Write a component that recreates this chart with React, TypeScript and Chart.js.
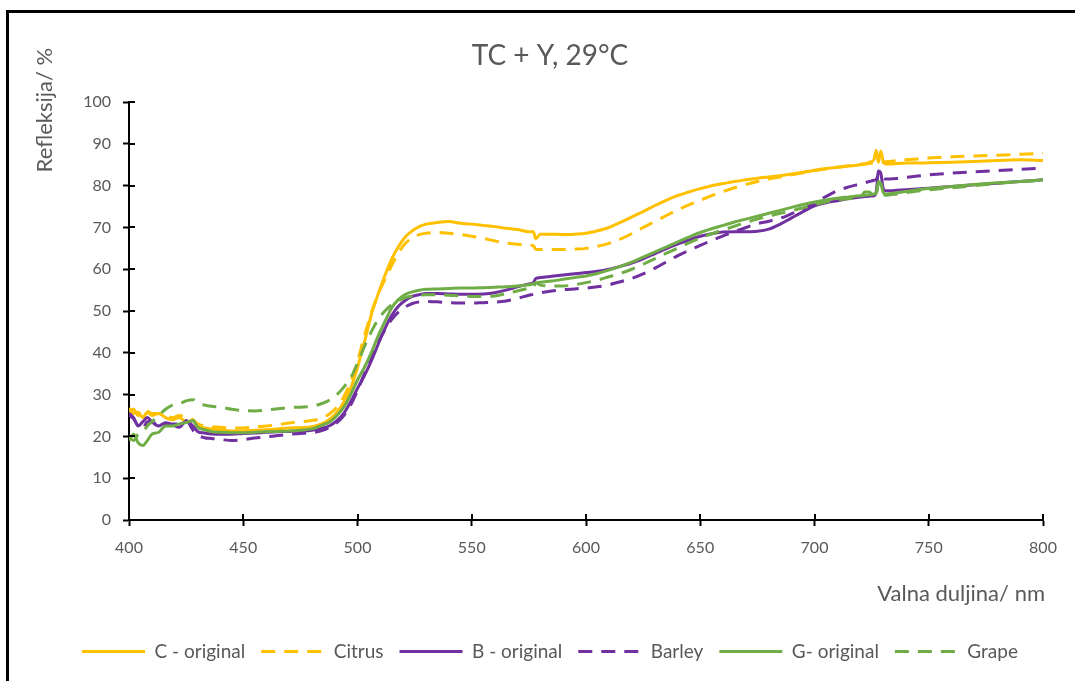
import React, { useEffect, useRef } from "react";
import { Chart, registerables } from "chart.js";

Chart.register(...registerables);

const chartTitle = "TC + Y, 29°C";
const yAxisTitle = "Refleksija/ %";
const xAxisTitle = "Valna duljina/ nm";
const seriesNames = ["C - original", "Citrus", "B - original", "Barley", "G- original", "Grape"];

const wavelengths = [
  400, 402, 404, 406, 408, 410,
  413, 416, 419, 422, 425, 428,
  430, 433, 436, 440, 445, 450,
  455, 460, 465, 470, 475, 480,
  485, 488, 491, 494, 497, 500,
  503, 506, 509, 512, 515, 518,
  521, 524, 527, 530, 535, 540,
  545, 550, 555, 560, 565, 570,
  575, 577, 578, 580, 585, 590,
  595, 600, 605, 610, 615, 620,
  625, 630, 635, 640, 645, 650,
  655, 660, 665, 670, 675, 680,
  685, 690, 695, 700, 705, 710,
  715, 720, 722, 724, 726, 727,
  728, 729, 730, 731, 733, 736,
  740, 745, 750, 760, 770, 780,
  790, 800,
];

const cOriginal = [
  26.8, 25.5, 25.8, 24.5, 25.8, 25.0,
  25.5, 24.5, 24.0, 24.5, 23.5, 23.8,
  22.5, 22.0, 21.8, 21.6, 21.3, 21.3,
  21.5, 21.6, 21.8, 22.0, 22.1, 22.3,
  23.2, 24.2, 25.8, 28.2, 31.5, 36.5,
  42.5, 49.0, 54.0, 58.5, 62.5, 65.5,
  67.8, 69.2, 70.2, 70.8, 71.2, 71.4,
  71.0, 70.8, 70.5, 70.2, 69.8, 69.5,
  69.0, 69.0, 67.3, 68.4, 68.4, 68.3,
  68.4, 68.6, 69.2, 70.0, 71.2, 72.5,
  73.8, 75.2, 76.5, 77.6, 78.5, 79.3,
  80.0, 80.5, 81.0, 81.4, 81.8, 82.1,
  82.4, 82.8, 83.2, 83.7, 84.1, 84.4,
  84.7, 85.0, 85.2, 85.6, 86.2, 88.5,
  85.6, 88.3, 86.0, 85.2, 85.2, 85.3,
  85.4, 85.4, 85.5, 85.6, 85.8, 86.0,
  86.2, 86.0,
];

const citrus = [
  26.0, 26.5, 25.0, 25.5, 26.0, 25.5,
  25.5, 25.0, 24.5, 25.0, 24.5, 24.0,
  23.0, 22.5, 22.3, 22.2, 22.0, 22.0,
  22.3, 22.5, 22.8, 23.2, 23.5, 23.8,
  24.5, 25.5, 27.0, 29.5, 33.0, 38.0,
  44.0, 49.5, 54.0, 57.5, 61.0, 64.0,
  66.2, 67.6, 68.3, 68.6, 68.8, 68.6,
  68.3, 67.9, 67.4, 66.8, 66.3, 66.0,
  65.8, 65.6, 64.8, 64.7, 64.7, 64.7,
  64.8, 65.0, 65.5, 66.2, 67.2, 68.5,
  70.0, 71.4, 72.8, 74.2, 75.4, 76.5,
  77.6, 78.6, 79.5, 80.3, 81.0, 81.6,
  82.1, 82.6, 83.1, 83.6, 84.0, 84.4,
  84.8, 85.1, 85.2, 85.3, 85.4, 85.4,
  85.5, 85.5, 85.6, 85.7, 85.8, 86.0,
  86.2, 86.4, 86.6, 86.9, 87.1, 87.3,
  87.5, 87.8,
];

const bOriginal = [
  25.5, 24.5, 22.5, 23.5, 24.5, 23.5,
  22.5, 23.3, 22.8, 22.2, 23.7, 22.5,
  21.2, 20.8, 20.6, 20.5, 20.5, 20.7,
  20.8, 21.0, 21.1, 21.2, 21.3, 21.5,
  22.0, 22.6, 23.8, 25.5, 28.3, 31.5,
  34.5, 38.0, 42.0, 45.8, 49.0, 51.2,
  52.6, 53.5, 53.9, 54.2, 54.2, 54.1,
  54.0, 54.0, 54.1, 54.4, 55.0, 55.8,
  56.5, 56.8, 57.8, 58.0, 58.3, 58.6,
  58.9, 59.2, 59.5, 60.0, 60.7, 61.5,
  62.5, 63.7, 64.9, 66.0, 67.0, 67.9,
  68.5, 68.9, 69.0, 69.0, 69.1, 69.6,
  70.8, 72.3, 73.8, 75.2, 75.9, 76.4,
  76.9, 77.3, 77.4, 77.5, 77.6, 78.5,
  83.5, 83.0, 79.5, 78.8, 78.8, 78.9,
  79.0, 79.2, 79.4, 79.8, 80.2, 80.6,
  81.0, 81.4,
];

const barley = [
  25.0, 24.2, 22.5, 21.8, 23.5, 23.5,
  22.5, 22.7, 23.0, 22.9, 23.8, 21.5,
  20.3, 19.7, 19.5, 19.3, 19.0, 19.2,
  19.6, 19.9, 20.2, 20.5, 20.7, 20.9,
  21.5, 22.3, 23.3, 25.0, 27.5, 31.0,
  35.0, 39.0, 42.5, 45.5, 48.0, 49.8,
  51.0, 51.8, 52.2, 52.3, 52.2, 52.0,
  51.9, 51.9, 52.0, 52.1, 52.4, 53.0,
  53.8, 54.0, 54.2, 54.4, 54.8, 55.1,
  55.3, 55.5, 55.8, 56.3, 57.0, 57.8,
  58.9, 60.2, 61.7, 63.2, 64.5, 65.7,
  66.9, 68.0, 69.0, 70.0, 70.9, 71.5,
  72.2, 73.3, 74.5, 75.8, 77.4, 78.8,
  79.7, 80.4, 80.7, 81.0, 81.3, 81.5,
  82.5, 82.6, 82.0, 81.6, 81.6, 81.7,
  82.0, 82.3, 82.6, 83.0, 83.3, 83.6,
  83.9, 84.2,
];

const gOriginal = [
  19.0, 20.5, 18.5, 17.8, 19.0, 20.5,
  21.0, 22.5, 22.5, 23.0, 23.3, 23.8,
  22.2, 21.6, 21.2, 21.0, 20.9, 20.9,
  21.0, 21.1, 21.2, 21.3, 21.5, 21.8,
  22.8, 23.5, 25.0, 27.0, 30.0, 33.5,
  36.5, 40.0, 44.0, 47.5, 50.8, 52.8,
  54.0, 54.6, 55.0, 55.2, 55.3, 55.4,
  55.5, 55.5, 55.6, 55.7, 55.8, 56.0,
  56.3, 56.5, 56.7, 56.9, 57.2, 57.6,
  58.0, 58.4, 59.0, 59.8, 60.7, 61.7,
  62.9, 64.1, 65.3, 66.5, 67.7, 68.8,
  69.7, 70.5, 71.3, 72.0, 72.7, 73.4,
  74.1, 74.8, 75.5, 76.1, 76.6, 77.0,
  77.3, 77.6, 77.7, 77.8, 78.0, 78.2,
  81.0, 80.5, 78.5, 78.0, 78.1, 78.3,
  78.6, 79.0, 79.3, 79.8, 80.3, 80.7,
  81.0, 81.4,
];

const grape = [
  20.0, 19.0, 20.5, 21.0, 22.5, 23.5,
  25.0, 26.5, 27.5, 27.8, 28.5, 28.8,
  28.0, 27.5, 27.2, 27.0, 26.5, 26.2,
  26.1, 26.3, 26.6, 26.9, 27.0, 27.2,
  28.0, 28.8, 30.0, 31.8, 34.0, 37.5,
  41.5, 45.0, 48.0, 50.0, 51.5, 52.5,
  53.2, 53.6, 53.8, 53.9, 53.9, 53.8,
  53.6, 53.5, 53.5, 53.6, 54.2, 54.8,
  55.4, 55.6, 56.8, 56.2, 56.0, 56.0,
  56.3, 56.8, 57.4, 58.2, 59.0, 60.0,
  61.2, 62.5, 63.8, 65.0, 66.3, 67.5,
  68.5, 69.4, 70.3, 71.2, 72.0, 72.7,
  73.4, 74.0, 74.7, 75.4, 76.1, 76.6,
  76.9, 77.1, 78.5, 78.5, 77.5, 77.6,
  80.6, 80.6, 78.5, 77.7, 77.8, 78.0,
  78.3, 78.7, 79.0, 79.5, 80.0, 80.5,
  81.0, 81.3,
];

const seriesValues = [cOriginal, citrus, bOriginal, barley, gOriginal, grape];
const seriesColors = ["#FFC000", "#FFC000", "#7030A0", "#7030A0", "#70AD47", "#70AD47"];
const seriesDashed = [false, true, false, true, false, true];
const DASH = [14, 9];

const FONT = "Lato, 'Open Sans', sans-serif";
const GREY = "#595959";

const crossTicksAndTitles = {
  id: "crossTicksAndTitles",
  afterDraw(chart: any) {
    const { ctx, chartArea, scales } = chart;
    const xs = scales.x;
    const ys = scales.y;
    ctx.save();
    ctx.strokeStyle = "#000";
    ctx.lineWidth = 2;
    ctx.beginPath();
    xs.ticks.forEach((t: any) => {
      const px = Math.round(xs.getPixelForValue(t.value));
      ctx.moveTo(px, chartArea.bottom - 6);
      ctx.lineTo(px, chartArea.bottom);
    });
    ys.ticks.forEach((t: any) => {
      const py = Math.round(ys.getPixelForValue(t.value));
      ctx.moveTo(chartArea.left, py);
      ctx.lineTo(chartArea.left + 6, py);
    });
    ctx.stroke();

    ctx.fillStyle = GREY;
    ctx.font = `22px ${FONT}`;
    ctx.textBaseline = "middle";
    ctx.textAlign = "right";
    ctx.fillText(xAxisTitle, chartArea.right + 2, chartArea.bottom + 74);

    ctx.translate(chartArea.left - 84, chartArea.top + 8);
    ctx.rotate(-Math.PI / 2);
    ctx.textAlign = "center";
    ctx.fillText(yAxisTitle, 0, 0);
    ctx.restore();
  },
};

export default function App() {
  const canvasRef = useRef<HTMLCanvasElement | null>(null);

  useEffect(() => {
    const canvas = canvasRef.current;
    if (!canvas) return;
    const datasets = seriesNames.map((name, i) => ({
      label: name,
      data: wavelengths.map((w, j) => ({ x: w, y: seriesValues[i][j] })),
      borderColor: seriesColors[i],
      backgroundColor: seriesColors[i],
      borderWidth: 3,
      borderDash: seriesDashed[i] ? DASH : [],
      pointRadius: 0,
      pointHoverRadius: 0,
      fill: false,
      cubicInterpolationMode: "monotone" as const,
      order: seriesNames.length - i,
    }));

    const defaultLabels = (Chart.defaults as any).plugins.legend.labels.generateLabels;

    const chart = new Chart(canvas, {
      type: "line",
      data: { datasets },
      plugins: [crossTicksAndTitles],
      options: {
        responsive: false,
        animation: false,
        devicePixelRatio: 1,
        layout: { padding: { left: 0, right: 0, top: 0, bottom: 19 } },
        scales: {
          x: {
            type: "linear",
            min: 400,
            max: 800,
            ticks: {
              stepSize: 50,
              color: GREY,
              font: { family: FONT, size: 16 },
              padding: 12,
              maxRotation: 0,
            },
            grid: {
              display: true,
              drawOnChartArea: false,
              drawTicks: true,
              tickLength: 6,
              tickColor: "#000",
              tickWidth: 2,
              color: "#000",
            },
            border: { display: true, color: "#000", width: 2 },
            afterFit: (s: any) => {
              s.height = 106;
            },
          },
          y: {
            type: "linear",
            min: 0,
            max: 100,
            ticks: {
              stepSize: 10,
              color: GREY,
              font: { family: FONT, size: 16 },
              padding: 12,
            },
            grid: {
              display: true,
              drawOnChartArea: false,
              drawTicks: true,
              tickLength: 6,
              tickColor: "#000",
              tickWidth: 2,
              color: "#000",
            },
            border: { display: true, color: "#000", width: 2 },
            afterFit: (s: any) => {
              s.width = 129;
            },
          },
          y2: {
            type: "linear",
            position: "right",
            display: true,
            ticks: { display: false },
            grid: { display: false, drawTicks: false },
            border: { display: false },
            afterFit: (s: any) => {
              s.width = 57;
            },
          },
        },
        plugins: {
          title: {
            display: true,
            text: chartTitle,
            color: GREY,
            font: { family: FONT, size: 28, weight: "normal" },
            padding: { top: 39, bottom: 29.5 },
          },
          legend: {
            display: true,
            position: "bottom",
            labels: {
              usePointStyle: true,
              pointStyle: "line",
              pointStyleWidth: 63,
              boxHeight: 16,
              padding: 16,
              color: GREY,
              font: { family: FONT, size: 19 },
              sort: (a: any, b: any) => a.datasetIndex - b.datasetIndex,
              generateLabels: (ch: any) =>
                defaultLabels(ch).map((it: any) => ({
                  ...it,
                  pointStyle: "line",
                  lineWidth: 3,
                  strokeStyle: seriesColors[it.datasetIndex],
                  fillStyle: seriesColors[it.datasetIndex],
                  lineDash: seriesDashed[it.datasetIndex] ? DASH : [],
                  lineCap: "butt",
                })),
            },
          },
          tooltip: { enabled: false },
        },
      },
    });
    return () => chart.destroy();
  }, []);

  return (
    <div
      style={{
        position: "fixed",
        left: 0,
        top: 0,
        width: 1075,
        height: 681,
        overflow: "hidden",
        background: "#fff",
      }}
    >
      <div
        style={{
          position: "absolute",
          left: 6,
          top: 10,
          width: 1200,
          height: 1000,
          borderTop: "3px solid #000",
          borderLeft: "3px solid #000",
        }}
      />
      <canvas
        ref={canvasRef}
        width={1100}
        height={690}
        style={{ position: "absolute", left: 0, top: 0, width: 1100, height: 690 }}
      />
    </div>
  );
}
